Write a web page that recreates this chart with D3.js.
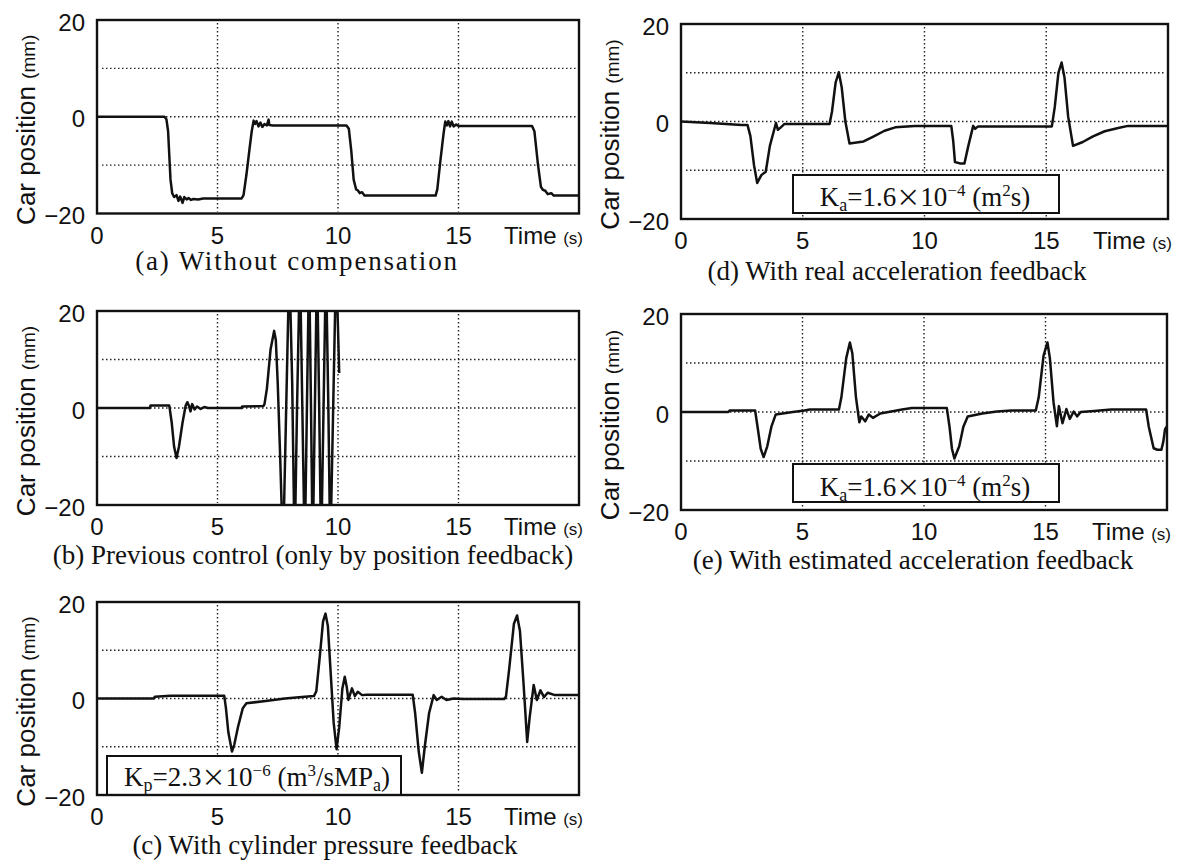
<!DOCTYPE html>
<html>
<head>
<meta charset="utf-8">
<script src="https://cdn.jsdelivr.net/npm/d3@7"></script>
<style>
  body { margin: 0; background: #fff; }
</style>
</head>
<body>
<script>
// tick values shared by all five panels
const xTicks = [0, 5, 10, 15];
const xGrid = [5, 10, 15];
const yGrid = [10, 0, -10];
const yTicks = [20, 0, -20];

// car position (mm) vs time (s)
const seriesA = [[0,0],[2.8,0],[2.88,-0.5],[2.95,-3],[3.0,-8],[3.05,-13],[3.12,-15.8],[3.2,-16.6],[3.3,-16.2],[3.38,-17.4],[3.45,-16.5],[3.55,-17.8],[3.62,-16.6],[3.72,-17.1],[3.8,-16.8],[3.9,-17.2],[4.0,-17.0],[4.2,-17.1],[4.4,-16.9],[6.0,-16.9],[6.08,-16.2],[6.2,-12],[6.32,-7],[6.42,-3],[6.5,-0.8],[6.56,-1.5],[6.62,-0.9],[6.7,-2.0],[6.78,-1.2],[6.86,-2.1],[6.95,-1.5],[7.05,-1.8],[7.12,-0.6],[7.15,-1.7],[7.3,-1.8],[10.35,-1.8],[10.45,-2.5],[10.55,-7],[10.65,-13],[10.75,-15],[10.82,-15.2],[10.9,-15.8],[11.0,-15.6],[11.1,-16.3],[11.3,-16.3],[14.05,-16.3],[14.12,-15],[14.25,-9],[14.38,-3.5],[14.45,-1.0],[14.52,-1.8],[14.58,-0.9],[14.65,-2.0],[14.72,-1.0],[14.8,-2.0],[14.9,-1.6],[15.0,-1.9],[18.05,-1.9],[18.15,-3],[18.3,-10],[18.42,-14.5],[18.5,-15.1],[18.6,-15.3],[18.7,-16.0],[18.85,-15.8],[18.95,-16.3],[20,-16.3]];

const seriesB = [[0,0],[2.2,0],[2.22,0.5],[3.0,0.5],[3.1,-3],[3.2,-8],[3.3,-10.3],[3.4,-8],[3.55,-3],[3.68,0.5],[3.75,1.2],[3.82,0.4],[3.88,-0.7],[3.95,0.8],[4.05,-0.3],[4.15,0.3],[4.3,-0.2],[4.45,0.2],[4.6,0],[6.0,0],[6.02,0.3],[6.9,0.4],[6.95,0.8],[7.05,4],[7.2,12],[7.35,15.9],[7.42,14],[7.5,5],[7.6,-10],[7.72,-30],[7.85,0],[7.98,30],[8.1,5],[8.2,-30],[8.3,0],[8.42,30],[8.52,0],[8.62,-30],[8.71,0],[8.8,30],[8.88,0],[8.95,-30],[9.04,0],[9.13,30],[9.22,0],[9.3,-30],[9.4,0],[9.5,30],[9.6,0],[9.68,-30],[9.8,0],[9.92,30],[9.98,20],[10.05,7.2]];

const seriesC = [[0,0],[2.35,0],[2.4,0.35],[3.05,0.55],[5.28,0.55],[5.35,-2],[5.45,-7],[5.6,-11],[5.7,-9.5],[5.85,-5.9],[6.05,-2],[6.2,-1.0],[7.0,-0.5],[7.8,0],[8.5,0.3],[9.0,0.5],[9.1,1.5],[9.25,9],[9.38,16],[9.48,17.6],[9.58,15],[9.7,5],[9.82,-5],[9.94,-10.5],[10.05,-6],[10.18,2],[10.28,4.5],[10.36,2.5],[10.43,-0.3],[10.58,2.1],[10.7,0.5],[10.82,1.4],[11.0,0.7],[11.2,0.8],[13.1,0.8],[13.2,-3],[13.35,-11],[13.48,-15.4],[13.6,-10],[13.78,-3],[13.97,0.7],[14.1,-0.3],[14.3,0.35],[14.5,-0.3],[14.8,0],[15.2,-0.1],[16.9,-0.1],[16.97,0.4],[17.1,6],[17.3,15.5],[17.43,17.2],[17.55,14],[17.7,3],[17.85,-9.0],[17.95,-4],[18.12,2.8],[18.25,-0.3],[18.4,1.7],[18.55,0.3],[18.7,1.2],[19.0,0.7],[20,0.7]];

const seriesD = [[0,0],[1.2,-0.3],[2.5,-0.7],[2.73,-0.7],[2.85,-3],[3.0,-9],[3.13,-12.6],[3.3,-11],[3.48,-10.3],[3.65,-5],[3.9,-0.3],[3.98,-1.7],[4.1,-1.2],[4.25,-0.5],[6.1,-0.5],[6.2,2],[6.35,8],[6.48,10.1],[6.6,7],[6.75,0],[6.92,-4.5],[7.5,-4.1],[7.9,-3.1],[8.36,-1.9],[8.8,-1.2],[9.6,-0.9],[11.1,-0.9],[11.18,-4],[11.25,-8.3],[11.45,-8.6],[11.64,-8.6],[11.8,-5],[12.0,-0.9],[12.08,-1.5],[12.2,-1.0],[15.23,-1.0],[15.35,3],[15.5,10],[15.63,12.1],[15.75,9],[15.9,1],[16.1,-5.0],[16.5,-4.2],[16.9,-3.1],[17.4,-2.0],[18.0,-1.3],[18.36,-0.9],[20,-0.9]];

const seriesE = [[0,0],[1.95,0],[2.0,0.3],[3.05,0.3],[3.15,-3],[3.28,-7.5],[3.4,-9.2],[3.55,-7],[3.72,-3],[3.9,-0.5],[4.6,0],[5.08,0.3],[5.3,0.5],[6.5,0.5],[6.6,3],[6.8,11],[6.95,14.2],[7.05,12],[7.2,3],[7.34,-2.1],[7.42,-0.9],[7.58,-1.9],[7.73,-0.5],[7.9,-1.2],[8.2,-0.3],[9.1,0.5],[9.5,0.8],[10.94,0.8],[11.05,-3],[11.15,-7.5],[11.25,-9.5],[11.45,-7],[11.62,-3],[11.8,-0.9],[12.4,-0.3],[13.0,0.1],[13.6,0.3],[14.6,0.3],[14.72,3],[14.92,11.5],[15.08,14.2],[15.18,11],[15.33,2],[15.47,-2.9],[15.55,1.2],[15.7,-2.3],[15.86,0.6],[16.0,-1.4],[16.16,0.1],[16.3,-0.9],[16.45,0],[17.0,0.2],[17.7,0.5],[19.14,0.5],[19.25,-3],[19.45,-7.4],[19.6,-7.7],[19.77,-7.7],[19.85,-6],[19.92,-3.5],[20,-2.9]];

// gain labels: [text, font size, dy, cjk]
const labelKp = [["K",27,0],["p",18,5],["=2.3",27,-5],["×",24,0,1],["10",27,0],["−6",17,-10],[" (m",27,10],["3",17,-10],["/sMP",27,10],["a",18,5],[")",27,-5]];
const labelKa = [["K",27,0],["a",18,5],["=1.6",27,-5],["×",24,0,1],["10",27,0],["−4",17,-10],[" (m",27,10],["2",17,-10],["s)",27,10]];

const panels = [
  { data: seriesA, left: 97, right: 579, top: 20, bottom: 213.5,
    caption: "(a) Without compensation", capX: 297, capY: 270, capSpacing: 1.8 },
  { data: seriesB, left: 97, right: 579, top: 311, bottom: 505,
    caption: "(b) Previous control (only by position feedback)", capX: 313, capY: 564 },
  { data: seriesC, left: 97, right: 579, top: 602, bottom: 795,
    caption: "(c) With cylinder pressure feedback", capX: 325, capY: 854,
    box: { x: 10, y: -39, w: 294, h: 39, tx: 150, ty: -9 }, label: labelKp },
  { data: seriesD, left: 681, right: 1168, top: 24, bottom: 219,
    caption: "(d) With real acceleration feedback", capX: 897, capY: 280,
    box: { x: 112, y: -44, w: 266, h: 38, tx: 132, ty: -13 }, label: labelKa },
  { data: seriesE, left: 681, right: 1167, top: 314, bottom: 510,
    caption: "(e) With estimated acceleration feedback", capX: 913, capY: 569,
    box: { x: 112, y: -46, w: 266, h: 38, tx: 132, ty: -14 }, label: labelKa }
];

const sans = "'Liberation Sans', Arial, Helvetica, sans-serif";
const serif = "'Liberation Serif', 'Times New Roman', serif";
const cjk = "'Noto Sans CJK JP', 'Liberation Serif', serif";

const svg = d3.select("body").append("svg")
  .attr("width", 1179)
  .attr("height", 861)
  .style("background", "#fff");

panels.forEach((p, i) => {
  const x = d3.scaleLinear().domain([0, 20]).range([p.left, p.right]);
  const y = d3.scaleLinear().domain([-20, 20]).range([p.bottom, p.top]);
  const g = svg.append("g");

  g.append("clipPath").attr("id", "clip" + i)
    .append("rect")
    .attr("x", p.left).attr("y", p.top)
    .attr("width", p.right - p.left).attr("height", p.bottom - p.top);

  // dotted grid
  g.selectAll(".gx").data(xGrid).enter().append("line")
    .attr("x1", d => x(d)).attr("x2", d => x(d))
    .attr("y1", p.top + 3).attr("y2", p.bottom - 2)
    .attr("stroke", "#222").attr("stroke-width", 1.4)
    .attr("stroke-dasharray", "1.5,2.5");
  g.selectAll(".gy").data(yGrid).enter().append("line")
    .attr("x1", p.left + 5).attr("x2", p.right - 2)
    .attr("y1", d => y(d)).attr("y2", d => y(d))
    .attr("stroke", "#222").attr("stroke-width", 1.4)
    .attr("stroke-dasharray", "1.5,2.5");

  // the trace
  const line = d3.line().x(d => x(d[0])).y(d => y(d[1]));
  g.append("path")
    .datum(p.data)
    .attr("d", line)
    .attr("clip-path", "url(#clip" + i + ")")
    .attr("fill", "none")
    .attr("stroke", "#111")
    .attr("stroke-width", 2.5)
    .attr("stroke-linejoin", "round");

  // text box with gain value
  if (p.box) {
    g.append("rect")
      .attr("x", p.left + p.box.x).attr("y", p.bottom + p.box.y)
      .attr("width", p.box.w).attr("height", p.box.h)
      .attr("fill", "#fff").attr("stroke", "#111").attr("stroke-width", 2);
    const t = g.append("text")
      .attr("x", p.left + p.box.x + p.box.tx)
      .attr("y", p.bottom + p.box.ty)
      .attr("text-anchor", "middle")
      .style("font-family", serif)
      .attr("fill", "#111");
    p.label.forEach(s => {
      t.append("tspan").attr("dy", s[2])
        .style("font-size", s[1] + "px")
        .style("font-family", s[3] ? cjk : serif)
        .text(s[0]);
    });
  }

  // frame
  g.append("rect")
    .attr("x", p.left).attr("y", p.top)
    .attr("width", p.right - p.left).attr("height", p.bottom - p.top)
    .attr("fill", "none").attr("stroke", "#111").attr("stroke-width", 2.4);

  // y tick labels
  g.selectAll(".ty").data(yTicks).enter().append("text")
    .attr("x", p.left - 12)
    .attr("y", d => y(d) + 2)
    .attr("dy", "0.36em")
    .attr("text-anchor", "end")
    .style("font-family", sans).style("font-size", "24px")
    .attr("fill", "#111")
    .text(d => d < 0 ? "−" + Math.abs(d) : d);

  // x tick labels
  g.selectAll(".tx").data(xTicks).enter().append("text")
    .attr("x", d => x(d))
    .attr("y", p.bottom + 30)
    .attr("text-anchor", "middle")
    .style("font-family", sans).style("font-size", "24px")
    .attr("fill", "#111")
    .text(d => d);

  const tl = g.append("text")
    .attr("x", p.right + 4)
    .attr("y", p.bottom + 30)
    .attr("text-anchor", "end")
    .style("font-family", sans)
    .attr("fill", "#111");
  tl.append("tspan").style("font-size", "24px").text("Time ");
  tl.append("tspan").style("font-size", "17px").text("(s)");

  // y axis title
  const yl = g.append("text")
    .attr("transform", `translate(${p.left - 62},${(p.top + p.bottom) / 2 + 13}) rotate(-90)`)
    .attr("text-anchor", "middle")
    .style("font-family", sans)
    .attr("fill", "#111");
  yl.append("tspan").style("font-size", "26px").text("Car position ");
  yl.append("tspan").style("font-size", "19px").text("(mm)");

  // caption
  g.append("text")
    .attr("x", p.capX).attr("y", p.capY)
    .attr("text-anchor", "middle")
    .style("font-family", serif).style("font-size", "27px")
    .style("letter-spacing", (p.capSpacing || 0) + "px")
    .attr("fill", "#111")
    .text(p.caption);
});
</script>
</body>
</html>
